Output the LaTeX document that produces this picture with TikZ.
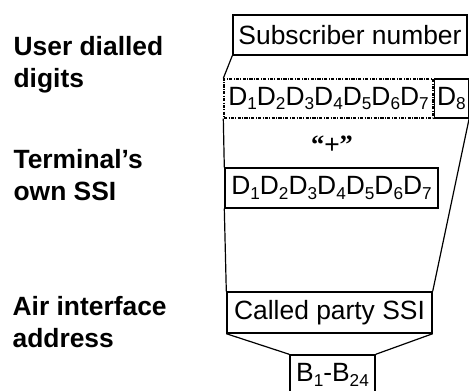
\documentclass[tikz,border=0pt]{standalone}
\usepackage{fontspec}
\setmainfont{Liberation Sans}
\newfontfamily\quotefont{Liberation Serif}
\usetikzlibrary{positioning}

\newcommand{\fieldfont}{\fontsize{13.2}{15.8}\selectfont}
\newcommand{\captfont}{\fontsize{13.2}{15.8}\selectfont\bfseries}
\newcommand{\lo}[1]{\raisebox{-0.17em}{\fontsize{8.6}{9}\selectfont #1}}
\newcommand{\digits}{D\lo{1}D\lo{2}D\lo{3}D\lo{4}D\lo{5}D\lo{6}D\lo{7}}

\tikzset{
  field/.style={draw, line width=0.7pt, inner sep=0pt, font=\fieldfont},
  caption/.style={align=left, inner sep=0pt, anchor=base west, font=\captfont},
}

\begin{document}
\begin{tikzpicture}[x=0.5pt,y=-0.5pt,line width=0.6pt]
\useasboundingbox (0,0) rectangle (469,390);

% fields
\node[field, minimum width=117pt, minimum height=20pt] (sub) at (350,35) {Subscriber number};
\node[field, dash pattern=on 1.6pt off 0.7pt on 0.4pt off 0.7pt, minimum width=104.5pt, minimum height=19.5pt] (dsh) at (328.5,98.5) {\digits};
\node[field, minimum width=17pt, minimum height=19.5pt, right=0pt of dsh] (deight) {D\lo{8}};
\node[font=\fieldfont, inner sep=0pt] (plus) at (332,145) {{\quotefont\bfseries “}+{\quotefont\bfseries ”}};
\node[field, minimum width=106.5pt, minimum height=20pt] (own) at (331.5,188) {\digits};
\node[field, minimum width=102.5pt, minimum height=20.5pt] (called) at (329.5,312.5) {Called party SSI};
\node[field, minimum width=42.5pt, minimum height=20pt] (bits) at (332.5,375) {B\lo{1}-B\lo{24}};

% left captions (base = last line)
\node[caption] (user) at (13,87) {User dialled\\digits};
\node[caption] (term) at (13,200) {Terminal’s\\own SSI};
\node[caption] (air) at (12,347) {Air interface\\address};

% connectors
\draw (sub.south west) -- (dsh.north west);
\draw (dsh.south west) -- (own.north west);
\draw (own.south west) -- (called.north west);
\draw (deight.south east) -- (called.north east);
\draw (called.south west) -- (bits.north west);
\draw (called.south east) -- (bits.north east);
\end{tikzpicture}
\end{document}
